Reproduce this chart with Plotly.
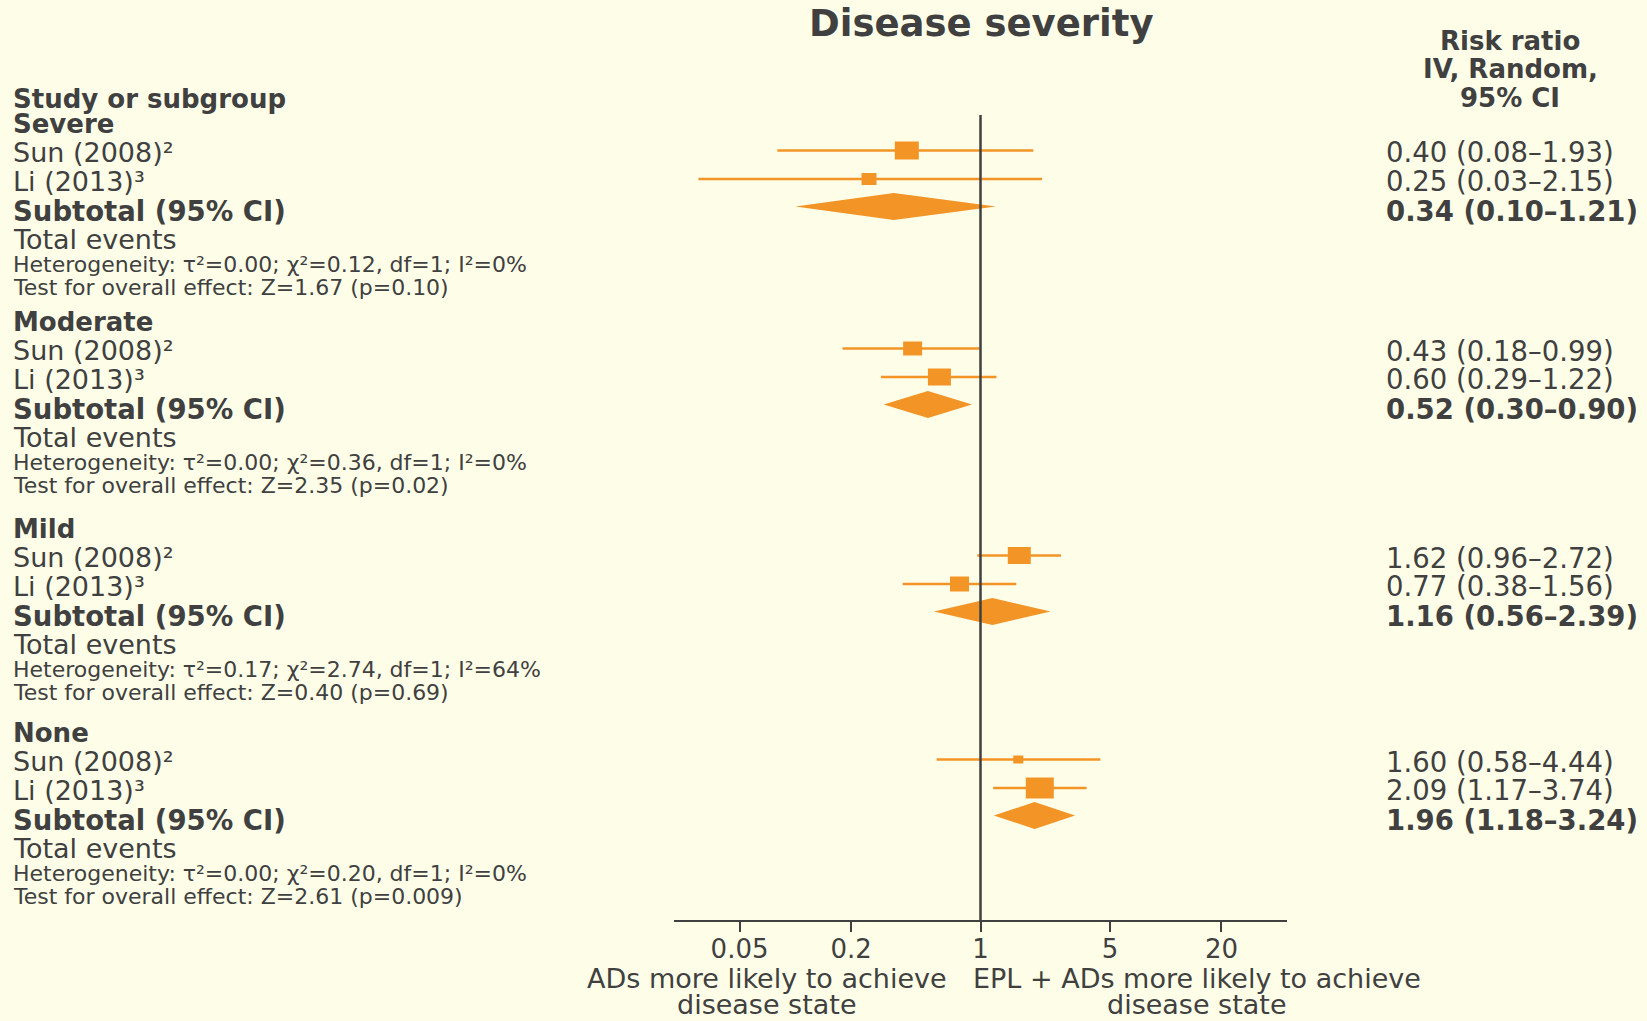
import math
import plotly.graph_objects as go

# ---------------- data ----------------
groups = ["Severe", "Moderate", "Mild", "None"]
studies = ["Sun (2008)", "Li (2013)"]
study_refs = ["²", "³"]
rr = [[0.40, 0.25], [0.43, 0.60], [1.62, 0.77], [1.60, 2.09]]
rr_lo = [[0.08, 0.03], [0.18, 0.29], [0.96, 0.38], [0.58, 1.17]]
rr_hi = [[1.93, 2.15], [0.99, 1.22], [2.72, 1.56], [4.44, 3.74]]
sub_rr = [0.34, 0.52, 1.16, 1.96]
sub_lo = [0.10, 0.30, 0.56, 1.18]
sub_hi = [1.21, 0.90, 2.39, 3.24]
tau2 = ["0.00", "0.00", "0.17", "0.00"]
chi2 = ["0.12", "0.36", "2.74", "0.20"]
dfs = ["1", "1", "1", "1"]
i2 = ["0", "0", "64", "0"]
z_vals = ["1.67", "2.35", "0.40", "2.61"]
p_vals = ["0.10", "0.02", "0.69", "0.009"]
tick_vals = [0.05, 0.2, 1, 5, 20]
tick_text = ["0.05", "0.2", "1", "5", "20"]

# ---------------- layout / style ----------------
W, H = 1647, 1021
BG = "#FEFEE8"
INK = "#404040"
ORANGE = "#F39426"
FONT = "DejaVu Sans"
X0, X1 = 674, 1287          # pixel extent of forest axis
XR = 1.655                  # log10 half-range
Y_TOP, Y_BOT = 115, 920
PPD = (X1 - X0) / (2 * XR)  # pixels per decade
group_top = [124, 322, 529, 733]
OFF = dict(sun=28.5, li=57, sub=86.5, tot=115, het=140.8, test=163.5)
box_px = [[(24, 18), (15, 12)], [(19, 14), (23, 17)],
          [(23, 17), (19, 15)], [(10, 8), (28, 21)]]
DIAM_H = 27
MARK_SHIFT = -2
LEFT_X = 10.5
RIGHT_X = 1384
BIG = 27
SUBT = 27.5
HEAD = 26
VAL = 27.5
SMALL = 22


def px(x):
    return x / W


def py(y):
    return 1 - y / H


fig = go.Figure()
annotations = []


def ann(text, x, y, size=BIG, bold=False, xanchor="left"):
    if bold:
        text = "<b>" + text + "</b>"
    annotations.append(dict(text=text, x=px(x), y=py(y), xref="paper", yref="paper",
                            xanchor=xanchor, yanchor="middle", showarrow=False,
                            font=dict(family=FONT, size=size, color=INK)))


# title and headers
ann("Disease severity", 981, 23, size=37, bold=True, xanchor="center")
ann("Study or subgroup", LEFT_X, 98.7, size=HEAD, bold=True)
for txt, yy in zip(["Risk ratio", "IV, Random,", "95% CI"], [41, 69.3, 97.7]):
    ann(txt, 1510, yy, size=HEAD, bold=True, xanchor="center")

offs = [OFF["sun"], OFF["li"]]
for g, name in enumerate(groups):
    top = group_top[g]
    ann(name, LEFT_X, top, size=HEAD, bold=True)
    for s in range(2):
        yrow = top + offs[s]
        ann(f"{studies[s]}{study_refs[s]}", LEFT_X, yrow)
        ann(f"{rr[g][s]:.2f} ({rr_lo[g][s]:.2f}–{rr_hi[g][s]:.2f})", RIGHT_X, yrow, size=VAL)
        yc = yrow + MARK_SHIFT
        # CI line
        fig.add_trace(go.Scatter(x=[rr_lo[g][s], rr_hi[g][s]], y=[yc, yc], mode="lines",
                                 line=dict(color=ORANGE, width=2.5), hoverinfo="skip",
                                 showlegend=False))
        # weighted box
        bw, bh = box_px[g][s]
        lc = math.log10(rr[g][s])
        xl = 10 ** (lc - bw / 2 / PPD)
        xr_ = 10 ** (lc + bw / 2 / PPD)
        fig.add_trace(go.Scatter(x=[xl, xr_, xr_, xl, xl],
                                 y=[yc - bh / 2, yc - bh / 2, yc + bh / 2, yc + bh / 2, yc - bh / 2],
                                 mode="lines", fill="toself", fillcolor=ORANGE,
                                 line=dict(width=0, color=ORANGE), hoverinfo="skip",
                                 showlegend=False))
    ysub = top + OFF["sub"]
    ann("Subtotal (95% CI)", LEFT_X, ysub, size=SUBT, bold=True)
    ann(f"{sub_rr[g]:.2f} ({sub_lo[g]:.2f}–{sub_hi[g]:.2f})", RIGHT_X, ysub, size=VAL, bold=True)
    yd = ysub + MARK_SHIFT - 2
    fig.add_trace(go.Scatter(x=[sub_lo[g], sub_rr[g], sub_hi[g], sub_rr[g], sub_lo[g]],
                             y=[yd, yd - DIAM_H / 2, yd, yd + DIAM_H / 2, yd],
                             mode="lines", fill="toself", fillcolor=ORANGE,
                             line=dict(width=0, color=ORANGE), hoverinfo="skip",
                             showlegend=False))
    ann("Total events", LEFT_X, top + OFF["tot"])
    ann(f"Heterogeneity: τ²={tau2[g]}; χ²={chi2[g]}, df={dfs[g]}; I²={i2[g]}%",
        LEFT_X, top + OFF["het"], size=SMALL)
    ann(f"Test for overall effect: Z={z_vals[g]} (p={p_vals[g]})", LEFT_X,
        top + OFF["test"], size=SMALL)

# axis direction labels
ann("ADs more likely to achieve", 767, 978, xanchor="center")
ann("disease state", 767, 1004, xanchor="center")
ann("EPL + ADs more likely to achieve", 1197, 978, xanchor="center")
ann("disease state", 1197, 1004.5, xanchor="center")

fig.update_layout(
    width=W, height=H, margin=dict(l=0, r=0, t=0, b=0),
    paper_bgcolor=BG, plot_bgcolor=BG,
    annotations=annotations,
    showlegend=False,
    xaxis=dict(type="log", range=[-XR, XR], domain=[px(X0), px(X1)],
               showline=True, linecolor=INK, linewidth=2,
               ticks="outside", ticklen=10, tickwidth=2, tickcolor=INK,
               tickvals=tick_vals, ticktext=tick_text, ticklabelstandoff=-5,
               tickfont=dict(family=FONT, size=26, color=INK),
               showgrid=False, zeroline=False, fixedrange=True),
    yaxis=dict(domain=[py(Y_BOT), py(Y_TOP)], range=[Y_BOT, Y_TOP], visible=False,
               fixedrange=True),
    shapes=[dict(type="line", xref="x", yref="y", x0=1, x1=1, y0=Y_TOP, y1=Y_BOT,
                 line=dict(color=INK, width=2.5), layer="above")],
)

fig.write_html("out.html", config={"displayModeBar": False},
               post_script="document.body.style.margin='0';")
